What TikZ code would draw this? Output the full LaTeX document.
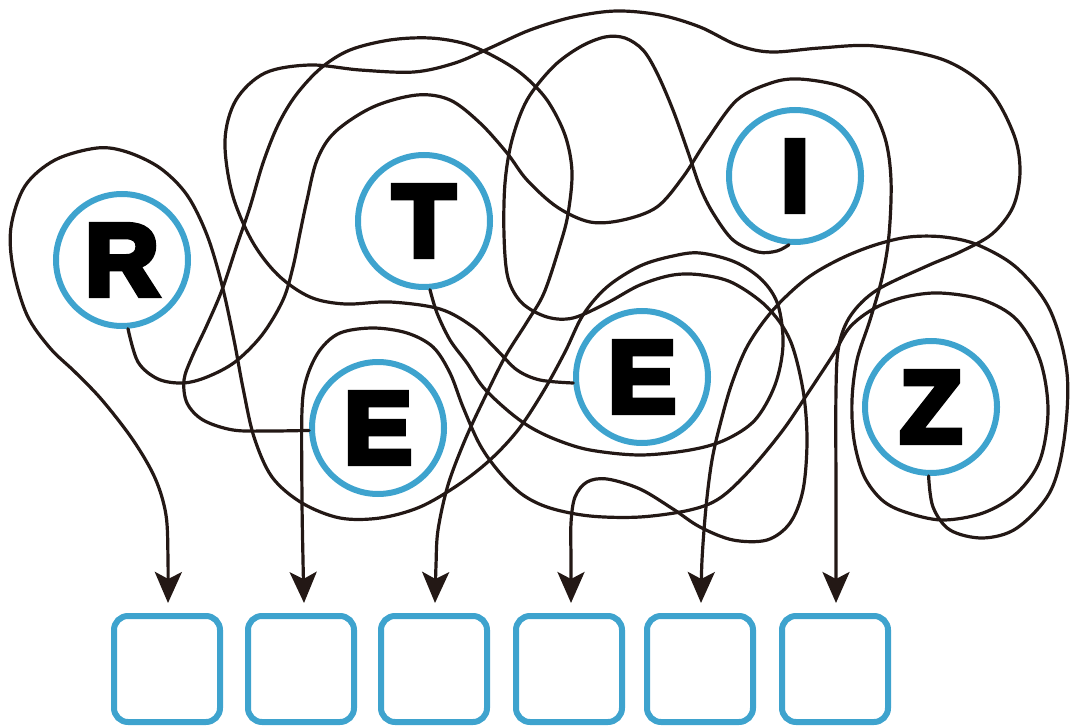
\documentclass[tikz,border=0pt]{standalone}
\usepackage{fontspec}
\setmainfont{Liberation Sans}
\newfontfamily\letterfont{Liberation Sans}
\newcommand\heavyglyph[1]{\special{pdf:literal direct q 2 Tr 6 w 0 j 10 M}#1\special{pdf:literal direct Q}}
\usetikzlibrary{arrows.meta}
\definecolor{ringblue}{RGB}{62,163,206}
\definecolor{wirecol}{RGB}{35,24,21}
\tikzset{
  letter/.style={circle, draw=ringblue, line width=6pt, minimum size=132pt, inner sep=0pt,
    font=\letterfont\bfseries\fontsize{102}{102}\selectfont, text=black},
  answerbox/.style={rectangle, draw=ringblue, line width=6pt, minimum size=106pt,
    rounded corners=14pt, inner sep=0pt},
  wire/.style={draw=wirecol, line width=3.2pt, line cap=round, line join=round,
    -{Stealth[length=31pt,width=27pt,inset=7pt]}},
}
\begin{document}
\begin{tikzpicture}[x=1pt,y=-1pt]
\useasboundingbox (0,0) rectangle (1073,727);

% letter circles
\node[letter] (R)  at (122,260) {\heavyglyph{R}};
\node[letter] (T)  at (424,221) {\heavyglyph{T}};
\node[letter] (I)  at (795,176) {\heavyglyph{I}};
\node[letter] (E1) at (378,428) {\heavyglyph{E}};
\node[letter] (E2) at (642,377) {\heavyglyph{E}};
\node[letter] (Z)  at (931,407) {\heavyglyph{Z}};

% answer boxes
\node[answerbox] (b1) at (167,669) {};
\node[answerbox] (b2) at (301,669) {};
\node[answerbox] (b3) at (434,669) {};
\node[answerbox] (b4) at (569,669) {};
\node[answerbox] (b5) at (700,669) {};
\node[answerbox] (b6) at (835,669) {};

% arrow tips
\coordinate (a1) at (168,603);
\coordinate (a2) at (304,603);
\coordinate (a3) at (435,603);
\coordinate (a4) at (571,603);
\coordinate (a5) at (701,603);
\coordinate (a6) at (836,603);

% R -> box 2
\draw[wire] plot[smooth, tension=0.55] coordinates {
 (R.-85) (138,362) (158,379) (183,383) (207,377) (235,362) (262,335) (283,300)
 (293,267) (300,233) (307,200) (317,160) (335,132) (373,107) (417,95) (450,100)
 (480,123) (507,153) (527,180) (557,207) (590,222) (623,220) (657,207) (683,177)
 (707,140) (737,100) (771,83) (799,79) (840,86) (868,103) (885,138) (891,180)
 (889,235) (882,278) (870,320) (857,360) (852,400) (854,440) (864,476) (882,500)
 (905,512) (942,520) (983,513) (1017,493) (1040,460) (1048,410) (1040,360)
 (1017,320) (983,300) (940,293) (905,297) (875,308) (850,327) (833,355) (810,390)
 (783,430) (750,470) (720,498) (690,510) (640,517) (590,516) (550,508) (523,495)
 (500,473) (480,445) (463,407) (450,373) (433,347) (407,333) (373,328) (340,333)
 (320,350) (307,377) (302,410) (302,500) (303,560) (a2)};

% T -> box 1
\draw[wire] plot[smooth, tension=0.55] coordinates {
 (T.-85) (437,313) (450,340) (467,363) (483,387) (507,410) (530,427) (557,440)
 (590,450) (640,455) (690,450) (725,440) (755,420) (775,385) (783,345) (778,305)
 (762,280) (735,262) (700,253) (673,256) (640,266) (607,287) (583,315) (565,352)
 (543,392) (518,430) (490,460) (458,485) (420,507) (380,518) (340,518) (302,503)
 (272,477) (254,437) (243,388) (234,340) (222,285) (207,235) (187,195) (160,168)
 (127,152) (97,148) (55,160) (25,186) (11,227) (13,268) (27,315) (50,348)
 (75,372) (102,400) (133,440) (155,478) (166,515) (168,560) (a1)};

% I -> box 4
\draw[wire] plot[smooth, tension=0.55] coordinates {
 (I.-95) (777,251) (758,252) (733,240) (713,213) (700,187) (688,152) (673,110)
 (657,73) (643,50) (625,38) (605,37) (580,47) (553,67) (527,100) (512,140)
 (505,183) (504,235) (508,278) (522,303) (547,317) (573,318) (607,303) (640,285)
 (673,275) (702,275) (733,283) (767,307) (790,340) (803,390) (807,440) (803,490)
 (790,523) (767,540) (733,540) (700,527) (673,509) (640,489) (607,479) (587,482)
 (575,497) (571,523) (571,560) (a4)};

% E (left) -> box 3
\draw[wire] plot[smooth, tension=0.55] coordinates {
 (E1.182) (270,431) (233,430) (203,420) (187,403) (184,380) (192,357) (207,325)
 (222,290) (237,245) (250,207) (263,163) (278,125) (296,95) (321,68) (350,50)
 (390,40) (430,38) (466,44) (497,58) (523,75) (547,100) (565,135) (572,172)
 (568,214) (560,245) (544,293) (527,322) (505,357) (485,397) (465,440) (448,485)
 (438,530) (436,565) (a3)};

% E (middle) -> box 6
\draw[wire] plot[smooth, tension=0.55] coordinates {
 (E2.185) (540,380) (517,370) (497,350) (473,327) (440,309) (390,302) (345,304)
 (310,297) (278,275) (252,241) (232,193) (225,140) (236,100) (265,73) (310,65)
 (360,70) (414,72) (455,63) (490,48) (530,30) (573,17) (616,11) (660,15)
 (700,27) (737,45) (771,52) (820,48) (875,46) (944,60) (989,90) (1014,135)
 (1020,172) (1013,207) (992,234) (960,252) (927,266) (877,290) (851,315)
 (839,345) (836,390) (836,500) (836,560) (a6)};

% Z -> box 5
\draw[wire] plot[smooth, tension=0.55] coordinates {
 (Z.-92) (933,507) (950,530) (983,538) (1017,528) (1050,492) (1064,440)
 (1067,373) (1050,310) (1017,268) (978,245) (944,237) (909,237) (875,245)
 (840,259) (806,279) (773,310) (748,345) (732,383) (721,421) (712,460)
 (706,507) (702,560) (a5)};

\end{tikzpicture}
\end{document}
